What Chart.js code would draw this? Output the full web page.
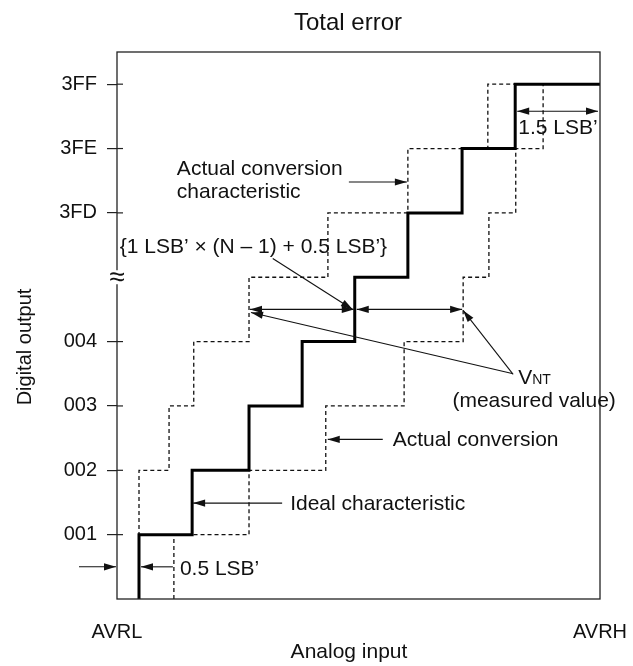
<!DOCTYPE html>
<html>
<head>
<meta charset="utf-8">
<script src="https://cdn.jsdelivr.net/npm/chart.js@4.4.0/dist/chart.umd.min.js"></script>
<style>
  html, body { margin: 0; padding: 0; background: #fff; }
  #wrap { position: relative; width: 633px; height: 666px; }
</style>
</head>
<body>
<div id="wrap"><canvas id="chart-steps"></canvas></div>
<script>
// output codes (y) and tick text for them; code 5 sits on the axis break
const codeLevels = [0, 1, 2, 3, 4, 5, 6, 7, 8];
const codeLabels = ['', '001', '002', '003', '004', '', '3FD', '3FE', '3FF'];
const shownCodes = [1, 2, 3, 4, 6, 7, 8];

// analog input (in LSB') where codes 1..8 begin
const idealSteps = [0.41, 1.40, 2.46, 3.45, 4.43, 5.42, 6.43, 7.42];
const earlySteps = [0.41, 0.41, 0.97, 1.43, 2.46, 3.93, 5.42, 6.91];
const lateSteps  = [1.06, 2.46, 3.89, 5.35, 6.45, 6.93, 7.43, 7.94];

const inputRange = [0, 9];
const inputLabels = ['AVRL', 'AVRH'];

const FONT = '"Liberation Sans", Arial, Helvetica, sans-serif';
Chart.defaults.font.family = FONT;
Chart.defaults.color = '#111';

function stairs(steps) {
  const pts = [{ x: steps[0], y: codeLevels[0] }];
  steps.forEach((s, i) => pts.push({ x: s, y: codeLevels[i + 1] }));
  pts.push({ x: inputRange[1], y: codeLevels[codeLevels.length - 1] });
  return pts;
}

function arrowHead(ctx, x1, y1, x2, y2) {
  const a = Math.atan2(y2 - y1, x2 - x1);
  const len = 12, hw = 3.6;
  ctx.beginPath();
  ctx.moveTo(x2, y2);
  ctx.lineTo(x2 - len * Math.cos(a) + hw * Math.sin(a), y2 - len * Math.sin(a) - hw * Math.cos(a));
  ctx.lineTo(x2 - len * Math.cos(a) - hw * Math.sin(a), y2 - len * Math.sin(a) + hw * Math.cos(a));
  ctx.closePath();
  ctx.fill();
}

function arrow(ctx, x1, y1, x2, y2, both) {
  ctx.beginPath();
  ctx.moveTo(x1, y1);
  ctx.lineTo(x2, y2);
  ctx.stroke();
  arrowHead(ctx, x1, y1, x2, y2);
  if (both) arrowHead(ctx, x2, y2, x1, y1);
}

// frame, axis break, inner tick stubs, titles and the notes with arrows
const annotate = {
  id: 'annotate',
  afterDatasetsDraw(chart) {
    const { ctx, chartArea: a, scales } = chart;
    const X = v => scales.x.getPixelForValue(v);
    const Y = v => scales.y.getPixelForValue(v);
    const text = (str, x, y, size, align) => {
      ctx.font = size + 'px ' + FONT;
      ctx.textAlign = align || 'left';
      ctx.textBaseline = 'alphabetic';
      ctx.fillText(str, x, y);
    };

    ctx.save();
    ctx.strokeStyle = '#222';
    ctx.fillStyle = '#111';
    ctx.lineWidth = 1.3;
    ctx.strokeRect(a.left, a.top, a.right - a.left, a.bottom - a.top);

    // tick stubs inside the frame
    ctx.lineWidth = 1.2;
    shownCodes.forEach(v => {
      ctx.beginPath();
      ctx.moveTo(a.left, Y(v));
      ctx.lineTo(a.left + 6, Y(v));
      ctx.stroke();
    });

    // axis break
    const yb = Y(codeLevels[5]);
    ctx.fillStyle = '#fff';
    ctx.fillRect(a.left - 6, yb - 7, 12, 14);
    ctx.fillStyle = '#111';
    ctx.font = '28px ' + FONT;
    ctx.textAlign = 'center';
    ctx.textBaseline = 'middle';
    ctx.fillText('\u2248', a.left, yb + 1);

    // titles
    text('Total error', 348, 30, 24, 'center');
    text('Analog input', 349, 658, 21, 'center');
    ctx.save();
    ctx.translate(31, 347);
    ctx.rotate(-Math.PI / 2);
    text('Digital output', 0, 0, 20, 'center');
    ctx.restore();

    ctx.lineWidth = 1.1;
    ctx.strokeStyle = '#111';

    // upper "Actual conversion characteristic"
    let tx = X(earlySteps[6]) - 1, ty = Y(6.48);
    arrow(ctx, tx - 58, ty, tx, ty);
    text('Actual conversion', tx - 230, ty - 7, 21);
    text('characteristic', tx - 230, ty + 16, 21);

    // 1 LSB' x (N - 1) + 0.5 LSB'
    const yn = Y(4.5);
    tx = X(idealSteps[4]) - 2;
    arrow(ctx, tx - 80, yn - 51, tx, yn);
    text('{1 LSB\u2019 \u00d7 (N \u2013 1) + 0.5 LSB\u2019}', tx - 233, yn - 56, 21);

    // V_NT spans
    arrow(ctx, X(earlySteps[4]) + 1, yn, X(idealSteps[4]) - 1, yn, true);
    arrow(ctx, X(idealSteps[4]) + 2, yn, X(lateSteps[4]) - 1, yn, true);
    const vx = X(lateSteps[4]), vy = yn;
    arrow(ctx, vx + 50, vy + 65, vx, vy + 1);
    arrow(ctx, vx + 49, vy + 64, X(earlySteps[4]) + 2, vy + 3);
    text('V', vx + 55, vy + 75, 21);
    text('NT', vx + 69, vy + 75, 14);
    text('(measured value)', vx + 71, vy + 98, 21, 'center');

    // lower "Actual conversion"
    tx = X(lateSteps[2]) + 2; ty = Y(2.48);
    arrow(ctx, tx + 55, ty, tx, ty);
    text('Actual conversion', tx + 65, ty + 7, 21);

    // "Ideal characteristic"
    tx = X(idealSteps[1]) + 1; ty = Y(1.49);
    arrow(ctx, tx + 89, ty, tx, ty);
    text('Ideal characteristic', tx + 97, ty + 7, 21);

    // 0.5 LSB'
    ty = Y(0.5);
    arrow(ctx, X(inputRange[0]) - 38, ty, X(inputRange[0]) - 1, ty);
    arrow(ctx, X(lateSteps[0]) - 1, ty, X(idealSteps[0]) + 2, ty);
    text('0.5 LSB\u2019', X(lateSteps[0]) + 6, ty + 8, 21);

    // 1.5 LSB'
    ty = Y(7.58);
    arrow(ctx, X(idealSteps[7]) + 2, ty, X(inputRange[1]) - 2, ty, true);
    text('1.5 LSB\u2019', X(idealSteps[7]) + 3, ty + 23, 21);

    ctx.restore();
  }
};

const lineBase = { stepped: 'before', pointRadius: 0, fill: false, borderJoinStyle: 'miter', borderCapStyle: 'butt' };

new Chart(document.getElementById('chart-steps'), {
  type: 'line',
  data: {
    datasets: [
      Object.assign({ label: 'Ideal characteristic', data: stairs(idealSteps),
        borderColor: '#000', borderWidth: 3 }, lineBase),
      Object.assign({ label: 'Actual conversion characteristic', data: stairs(earlySteps),
        borderColor: '#111', borderWidth: 1.3, borderDash: [4, 3] }, lineBase),
      Object.assign({ label: 'Actual conversion', data: stairs(lateSteps),
        borderColor: '#111', borderWidth: 1.3, borderDash: [4, 3] }, lineBase)
    ]
  },
  options: {
    responsive: true,
    maintainAspectRatio: false,
    animation: false,
    events: [],
    layout: { padding: { top: 52, right: 33, bottom: 0, left: 0 } },
    plugins: {
      legend: { display: false },
      tooltip: { enabled: false },
      title: { display: false }
    },
    scales: {
      x: {
        type: 'linear',
        min: inputRange[0],
        max: inputRange[1],
        afterBuildTicks: s => { s.ticks = inputRange.map(v => ({ value: v })); },
        afterFit: s => { s.height = 67; s.paddingLeft = 0; s.paddingRight = 0; },
        grid: { display: false, drawTicks: false },
        border: { display: false },
        ticks: {
          autoSkip: false,
          maxRotation: 0,
          padding: 21,
          font: { size: 20 },
          callback: v => inputLabels[inputRange.indexOf(v)]
        }
      },
      y: {
        type: 'linear',
        min: 0,
        max: 8.5,
        afterBuildTicks: s => { s.ticks = shownCodes.map(v => ({ value: v })); },
        afterFit: s => { s.width = 117; s.paddingTop = 0; s.paddingBottom = 0; },
        grid: { display: true, drawOnChartArea: false, drawTicks: true, tickLength: 10, color: '#222', lineWidth: 1.2 },
        border: { display: false },
        ticks: {
          autoSkip: false,
          padding: 10,
          font: { size: 20 },
          callback: v => codeLabels[v]
        }
      }
    }
  },
  plugins: [annotate]
});
</script>
</body>
</html>
